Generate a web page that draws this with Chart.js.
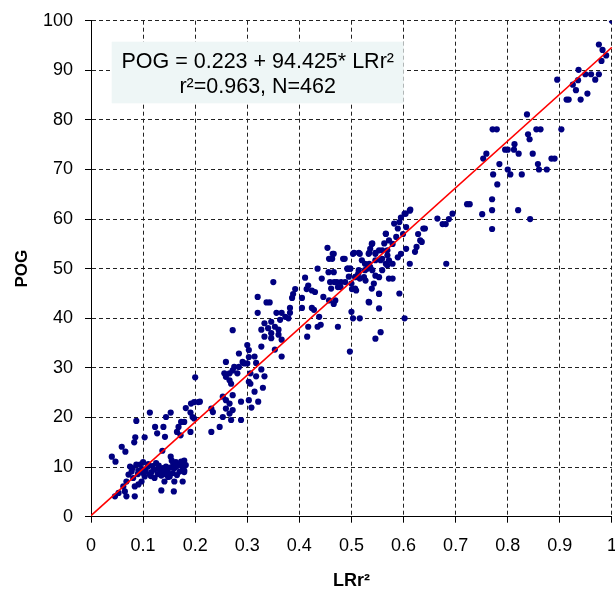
<!DOCTYPE html>
<html lang="en">
<head>
<meta charset="UTF-8" />
<title>POG vs LRr2</title>
<style>
  html, body { margin: 0; padding: 0; background: #fff; }
  #wrap { position: relative; width: 615px; height: 592px; }
</style>
</head>
<body>
<div id="wrap"><canvas id="chart" width="615" height="592"></canvas></div>
<script src="https://cdn.jsdelivr.net/npm/chart.js"></script>
<script>
// tick labels
const xTickLabels = ['0', '0.1', '0.2', '0.3', '0.4', '0.5', '0.6', '0.7', '0.8', '0.9', '1'];
const yTickLabels = ['0', '10', '20', '30', '40', '50', '60', '70', '80', '90', '100'];

// observations [LRr2, POG], grouped by region of the plot
const lowCluster = [
  [0.113,21.0],[0.087,19.3],[0.144,20.1],[0.153,21.0],[0.123,18.1],[0.139,18.1],[0.127,16.8],[0.142,16.1],
  [0.085,16.0],[0.103,16.0],[0.083,15.0],[0.059,14.1],[0.066,13.1],[0.040,12.1],[0.047,11.1],[0.137,13.3],
  [0.182,21.9],[0.192,22.8],[0.198,23.1],[0.206,23.1],[0.191,21.0],[0.179,19.1],[0.173,19.1],[0.168,18.1],
  [0.165,17.1],[0.195,20.1],[0.198,19.8],
  [0.075,10.1],[0.078,9.1],[0.091,9.3],[0.094,10.5],[0.109,10.1],[0.116,9.0],[0.122,9.5],[0.128,8.6],
  [0.135,9.0],[0.141,8.6],[0.147,9.0],[0.153,12.1],[0.155,11.3],[0.163,11.0],[0.173,11.1],[0.179,11.3],
  [0.160,9.8],[0.170,9.1],[0.179,9.0],[0.103,8.1],[0.113,8.5],[0.122,7.8],[0.097,7.1],[0.091,6.5],
  [0.068,7.1],[0.062,6.1],[0.065,5.1],[0.053,4.8],[0.068,4.1],[0.046,4.1],[0.084,4.1],[0.084,6.1],
  [0.135,5.3],[0.141,7.1],[0.159,5.1],[0.160,7.1],[0.176,7.1],[0.179,9.3],[0.072,8.5],[0.081,7.8],
  [0.100,8.8],[0.144,10.1],[0.132,9.5],[0.151,8.1],[0.157,8.8],
  [0.080,9.8],[0.087,10.5],[0.098,9.6],[0.105,9.2],[0.110,10.6],[0.118,10.2],[0.125,10.8],[0.130,10.3],
  [0.138,9.8],[0.145,9.5],[0.152,9.9],[0.158,10.6],[0.165,10.2],[0.170,10.5],[0.176,10.0],[0.182,10.4],
  [0.115,8.2],[0.135,8.3],[0.148,8.0],[0.165,8.4],[0.100,11.0],[0.090,8.6]
];
const lowerMid = [
  [0.191,17.1],[0.172,16.4],[0.209,23.2],[0.200,28.1],[0.231,21.8],[0.234,21.1],[0.247,18.1],[0.231,17.1],
  [0.253,20.1],[0.259,21.8],[0.266,22.8],[0.266,20.8],[0.269,19.5],[0.272,21.5],[0.253,24.2],[0.259,23.5],
  [0.272,24.5],[0.288,23.2],[0.288,19.5],[0.303,23.5],[0.308,22.0],[0.321,23.2],[0.259,31.2],[0.256,28.9],
  [0.259,28.2],[0.266,27.5],[0.269,26.8],[0.272,29.5],[0.275,30.2],[0.284,30.2],[0.281,28.9],[0.266,28.9],
  [0.291,31.2],[0.300,30.9],[0.303,32.2],[0.306,28.9],[0.303,27.2],[0.306,26.8],[0.303,33.6],[0.300,34.6],
  [0.272,37.6],[0.284,32.9],[0.294,30.9],[0.314,25.2],
  [0.382,41.1],[0.366,41.1],[0.356,41.1],[0.373,40.3],[0.379,40.0],[0.363,39.7],[0.346,39.3],[0.333,39.0],
  [0.353,38.3],[0.340,38.0],[0.360,37.7],[0.327,37.7],[0.346,37.0],[0.360,36.7],[0.333,36.3],[0.346,36.0],
  [0.366,35.7],[0.327,34.3],[0.353,33.7],[0.366,32.3],[0.314,32.3],[0.317,31.0],[0.327,29.7],[0.317,28.3],
  [0.333,28.3],[0.330,26.0],[0.438,40.3],[0.441,38.7],[0.435,38.3],[0.417,38.3],[0.415,36.3],[0.497,33.3],
  [0.320,44.3],[0.337,43.2],[0.320,41.1],[0.428,41.7]
];
const midCluster = [
  [0.454,54.2],[0.466,53.0],[0.463,52.0],[0.487,52.0],[0.505,53.2],[0.514,53.2],[0.534,53.2],[0.540,55.1],
  [0.546,53.2],[0.553,53.7],[0.563,55.1],[0.566,57.1],[0.569,53.7],[0.559,52.0],[0.534,51.0],[0.530,50.0],
  [0.540,49.7],[0.546,48.6],[0.553,48.3],[0.559,49.7],[0.569,50.7],[0.543,47.0],[0.553,44.9],[0.435,50.0],
  [0.456,49.3],[0.466,49.3],[0.492,50.0],[0.498,50.0],[0.514,49.7],[0.495,48.4],[0.508,48.4],[0.524,48.3],
  [0.527,47.6],[0.443,48.0],[0.411,48.2],[0.350,47.3],[0.392,45.9],[0.388,44.9],[0.386,44.1],[0.414,45.9],
  [0.417,46.6],[0.424,45.6],[0.405,44.1],[0.430,45.3],[0.446,44.3],[0.459,47.3],[0.472,47.3],[0.479,46.3],
  [0.488,47.3],[0.501,45.9],[0.509,45.6],[0.469,43.6],[0.466,42.9],[0.343,43.2],[0.382,42.1],[0.405,42.1],
  [0.424,42.1],[0.534,43.2],
  [0.602,61.1],[0.612,61.7],[0.595,60.3],[0.592,59.4],[0.582,59.1],[0.589,58.1],[0.605,58.4],[0.599,57.0],
  [0.586,56.4],[0.572,55.7],[0.566,57.0],[0.579,55.0],[0.539,55.0],[0.536,54.0],[0.533,53.0],[0.546,53.0],
  [0.559,53.7],[0.569,52.7],[0.572,51.7],[0.579,51.0],[0.589,52.3],[0.595,53.0],[0.566,51.0],[0.556,51.7],
  [0.546,51.7],[0.526,51.0],[0.520,51.7],[0.503,53.0],[0.516,53.0],[0.536,50.3],[0.526,49.7],[0.513,49.0],
  [0.516,48.0],[0.507,48.3],[0.493,50.0],[0.497,50.0],[0.500,47.0],[0.484,52.0],[0.464,53.0],[0.457,52.0],
  [0.480,47.3],[0.467,47.3],[0.461,46.0],[0.474,46.3],[0.507,46.0],[0.539,46.0],[0.553,45.0],[0.572,48.0],
  [0.579,48.0],[0.592,45.0],[0.612,51.0],[0.625,54.4],[0.635,55.4],[0.641,58.1],[0.628,57.0],[0.632,55.7],
  [0.622,53.4],[0.605,54.0],[0.457,43.6],[0.533,43.3],[0.553,42.0],[0.500,41.3],[0.503,40.0],[0.516,40.0],
  [0.602,40.0],[0.474,38.3],[0.556,37.2],[0.546,35.9]
];
const upperMid = [
  [0.613,61.9],[0.604,61.1],[0.638,58.1],[0.780,67.0],[0.770,64.0],[0.770,61.8],[0.751,61.0],[0.820,61.8],
  [0.722,63.0],[0.727,63.0],[0.694,61.1],[0.687,60.0],[0.665,60.1],[0.675,59.0],[0.681,59.0],[0.770,58.0],
  [0.682,51.0],
  [0.837,81.1],[0.771,78.1],[0.779,78.1],[0.855,78.1],[0.863,78.1],[0.903,78.1],[0.839,77.1],[0.842,76.1],
  [0.813,75.1],[0.795,74.0],[0.800,74.0],[0.812,74.0],[0.821,73.2],[0.759,73.2],[0.753,72.2],[0.848,73.2],
  [0.784,71.1],[0.858,71.1],[0.860,70.0],[0.875,70.0],[0.884,72.2],[0.890,72.2],[0.800,70.0],[0.805,69.0],
  [0.827,69.0],[0.772,69.0],[0.843,60.0]
];
const topEnd = [
  [1.000,100.0],[0.975,95.2],[0.982,94.1],[0.989,93.0],[0.980,91.9],[0.936,90.1],[0.949,89.2],[0.960,89.2],
  [0.975,89.2],[0.935,88.0],[0.968,88.1],[0.895,88.1],[0.925,87.1],[0.931,86.0],[0.913,84.1],[0.917,84.1],
  [0.940,84.1],[0.953,85.3]
];

// fitted line POG = 0.223 + 94.425 * LRr2, drawn between its two ends
const fitX = [0, 1];
const fitY = [0.223, 94.648];

const FONT = "'Liberation Sans', Arial, sans-serif";
const GRID = '#222';

const points = [].concat(lowCluster, lowerMid, midCluster, upperMid, topEnd)
  .map(p => ({ x: p[0], y: p[1] }));
const fitLine = fitX.map((x, i) => ({ x: x, y: fitY[i] }));

// equation box in the upper left of the plot
const noteBox = {
  id: 'noteBox',
  beforeDatasetsDraw(chart) {
    const ctx = chart.ctx;
    const ca = chart.chartArea;
    const left = ca.left + 20.7, top = ca.top + 21, w = 292, h = 61.6;
    ctx.save();
    ctx.fillStyle = '#eef6f6';
    ctx.fillRect(left, top, w, h);
    ctx.fillStyle = '#000';
    ctx.font = '21.5px ' + FONT;
    ctx.textBaseline = 'middle';
    ctx.textAlign = 'center';
    ctx.fillText('POG = 0.223 + 94.425* LRr\u00b2', left + w / 2, top + 20);
    ctx.fillText('r\u00b2=0.963, N=462', left + w / 2, top + 45.6);
    ctx.restore();
  }
};

new Chart(document.getElementById('chart'), {
  type: 'scatter',
  data: {
    datasets: [
      {
        type: 'line',
        data: fitLine,
        borderColor: '#ff0000',
        borderWidth: 1.5,
        pointRadius: 0,
        fill: false,
        order: 0
      },
      {
        data: points,
        backgroundColor: '#000080',
        borderWidth: 0,
        pointRadius: 3.1,
        pointHoverRadius: 3.1,
        order: 1
      }
    ]
  },
  options: {
    responsive: false,
    animation: false,
    devicePixelRatio: 1,
    layout: { padding: { left: 0, top: 20.7, right: 1, bottom: 0 } },
    plugins: { legend: { display: false }, tooltip: { enabled: false } },
    scales: {
      x: {
        type: 'linear',
        min: 0,
        max: 1,
        afterBuildTicks: s => { s.ticks = xTickLabels.map((t, i) => ({ value: i / 10 })); },
        afterFit: s => { s.height = 75.3; s.paddingLeft = 0; s.paddingRight = 0; },
        ticks: {
          autoSkip: false,
          maxRotation: 0,
          padding: 13,
          color: '#000',
          font: { family: FONT, size: 18 },
          callback: (v, i) => xTickLabels[i]
        },
        grid: { color: GRID, lineWidth: 1, tickLength: 6, tickColor: '#000', tickBorderDash: [] },
        border: { display: true, color: '#000', width: 1, dash: [4, 3] },
        title: {
          display: true,
          text: 'LRr\u00b2',
          color: '#000',
          font: { family: FONT, size: 18, weight: 'bold' },
          padding: { top: 0, bottom: 0 }
        }
      },
      y: {
        type: 'linear',
        min: 0,
        max: 100,
        afterBuildTicks: s => { s.ticks = yTickLabels.map((t, i) => ({ value: i * 10 })); },
        afterFit: s => { s.width = 91; s.paddingTop = 0; s.paddingBottom = 0; },
        ticks: {
          autoSkip: false,
          padding: 12,
          color: '#000',
          font: { family: FONT, size: 18 },
          callback: (v, i) => yTickLabels[i]
        },
        grid: { color: GRID, lineWidth: 1, tickLength: 6, tickColor: '#000', tickBorderDash: [] },
        border: { display: true, color: '#000', width: 1, dash: [4, 3] },
        title: {
          display: true,
          text: 'POG',
          color: '#000',
          font: { family: FONT, size: 17, weight: 'bold' },
          padding: { top: 12, bottom: 0 }
        }
      }
    }
  },
  plugins: [noteBox]
});
</script>
</body>
</html>
